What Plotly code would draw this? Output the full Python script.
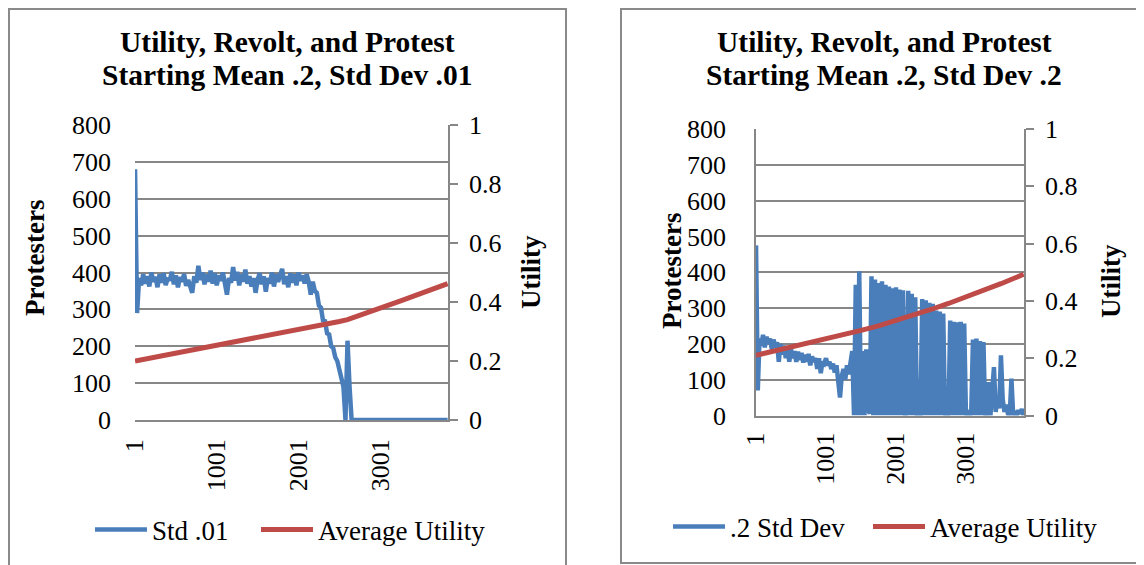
import plotly.graph_objects as go

# time steps are sampled every 25 runs (1, 26, 51, ...)
STEP = 25

# left chart: protesters, starting std dev .01
protest_std01 = [
    680, 290, 385, 365, 395, 370, 390, 362, 400, 375,
    388, 360, 395, 372, 398, 366, 385, 378, 402, 368,
    392, 360, 387, 375, 396, 364, 380, 358, 345, 390,
    372, 418, 380, 400, 368, 395, 375, 405, 370, 398,
    365, 392, 378, 400, 360, 340, 385, 372, 415, 378,
    402, 365, 395, 375, 408, 370, 390, 362, 385, 345,
    380, 398, 368, 390, 348, 385, 370, 400, 362, 395,
    375, 392, 410, 368, 390, 360, 398, 372, 395, 365,
    400, 378, 392, 370, 395, 375, 340, 375, 350, 345,
    310, 305, 270, 268, 235, 232, 200, 195, 170, 160,
    140, 120, 90, 0, 215, 90, 0, 0, 0, 0,
    0, 0, 0, 0, 0, 0, 0, 0, 0, 0,
    0, 0, 0, 0, 0, 0, 0, 0, 0, 0,
    0, 0, 0, 0, 0, 0, 0, 0, 0, 0,
    0, 0, 0, 0, 0, 0, 0, 0, 0, 0,
    0, 0, 0, 0,
]

# right chart: protesters, starting std dev .2
protest_std2 = [
    475, 70, 215, 195, 225, 190, 220, 200, 215, 185,
    212, 190, 205, 150, 200, 170, 195, 160, 190, 150,
    185, 160, 180, 150, 178, 155, 175, 148, 170, 150,
    172, 140, 165, 150, 160, 130, 160, 118, 150, 145,
    160, 140, 150, 130, 145, 120, 140, 95, 50, 110,
    130, 100, 140, 115, 160, 180, 0, 365, 0, 403,
    0, 180, 0, 185, 20, 5, 389, 0, 380, 0,
    370, 0, 375, 0, 365, 0, 360, 0, 355, 0,
    358, 0, 352, 0, 350, 0, 5, 348, 0, 340,
    0, 330, 0, 2, 0, 325, 0, 322, 0, 315,
    0, 312, 0, 293, 0, 290, 0, 285, 0, 5,
    0, 265, 0, 262, 0, 260, 0, 262, 0, 257,
    0, 8, 0, 5, 212, 0, 215, 0, 208, 0,
    205, 0, 3, 93, 0, 90, 135, 10, 50, 20,
    168, 45, 10, 30, 5, 0, 103, 0, 12, 0,
    15, 5, 18, 0,
]

# average utility, read at coarser steps
util_left_x = [1, 251, 501, 751, 1001, 1251, 1501, 1751, 2001, 2251,
               2501, 2601, 2751, 3001, 3251, 3501, 3751, 3826]
util_left = [0.200, 0.213, 0.226, 0.239, 0.252, 0.265, 0.278, 0.291, 0.305, 0.319,
             0.334, 0.340, 0.354, 0.379, 0.404, 0.429, 0.455, 0.462]

util_right_x = [1, 251, 501, 751, 1001, 1251, 1501, 1751, 2001, 2251,
                2501, 2751, 3001, 3251, 3501, 3826]
util_right = [0.210, 0.224, 0.238, 0.252, 0.266, 0.281, 0.297, 0.313, 0.331, 0.350,
              0.370, 0.391, 0.413, 0.436, 0.460, 0.493]

x_ticks = [1, 1001, 2001, 3001]
prot_ticks = [0, 100, 200, 300, 400, 500, 600, 700, 800]
util_ticks = [0, 0.2, 0.4, 0.6, 0.8, 1]
util_labels = ["0", "0.2", "0.4", "0.6", "0.8", "1"]

W, H = 1144, 565
OFF = 8  # page body margin, the figure sits 8px in from the window corner
BLUE = "#4a7ebb"
RED = "#be4b48"
GRID = "#878787"
FONT = "Liberation Serif"


# positions below are given in window pixels and mapped to paper coords
def px(x):
    return (x - OFF) / W


def py(y):
    return 1 - (y - OFF) / H


def steps(values):
    return list(range(1, 1 + STEP * len(values), STEP))


fig = go.Figure()

# left panel
fig.add_trace(go.Scatter(x=steps(protest_std01), y=protest_std01, name="Std .01",
                         mode="lines", line=dict(color=BLUE, width=4.5),
                         xaxis="x", yaxis="y", legend="legend"))
fig.add_trace(go.Scatter(x=util_left_x, y=util_left, name="Average Utility",
                         mode="lines", line=dict(color=RED, width=5),
                         xaxis="x", yaxis="y2", legend="legend2"))

# right panel
fig.add_trace(go.Scatter(x=steps(protest_std2), y=protest_std2, name=".2 Std Dev",
                         mode="lines", line=dict(color=BLUE, width=4.5),
                         xaxis="x2", yaxis="y3", legend="legend3"))
fig.add_trace(go.Scatter(x=util_right_x, y=util_right, name="Average Utility",
                         mode="lines", line=dict(color=RED, width=5),
                         xaxis="x2", yaxis="y4", legend="legend4"))

tick_font = dict(family=FONT, size=26, color="black")


def x_axis(domain, anchor, standoff):
    return dict(domain=domain, anchor=anchor, range=[0.5, 3830.5], automargin=False,
                tickvals=x_ticks, ticktext=[str(t) for t in x_ticks],
                tickangle=-90, showgrid=False, zeroline=False,
                showline=True, linecolor=GRID, linewidth=1.5,
                ticks="", ticklabelstandoff=standoff, tickfont=tick_font)


def prot_axis(domain, anchor, line):
    return dict(domain=domain, anchor=anchor, range=[0, 800], automargin=False,
                tickvals=prot_ticks, showgrid=True, gridcolor=GRID, gridwidth=1.5,
                zeroline=False, showline=line, linecolor=GRID, linewidth=1.5,
                ticks="", ticklabelstandoff=23, tickfont=tick_font)


def util_axis(over, anchor):
    return dict(overlaying=over, anchor=anchor, side="right", range=[0, 1],
                automargin=False,
                tickvals=util_ticks, ticktext=util_labels, showgrid=False,
                zeroline=False, showline=True, linecolor=GRID, linewidth=1.5,
                ticks="outside", ticklen=8, tickcolor=GRID, tickwidth=1.5,
                ticklabelstandoff=6, tickfont=tick_font)


def legend_at(x, y):
    # one entry per legend so each sits where Excel put it
    return dict(orientation="h", x=px(x), y=py(y), xanchor="left", yanchor="middle",
                font=dict(family=FONT, size=27, color="black"),
                bgcolor="rgba(0,0,0,0)", itemwidth=52)


left_x = [px(135), px(448)]
left_y = [py(420), py(125)]
right_x = [px(756), px(1024)]
right_y = [py(415.5), py(129)]

fig.update_layout(
    width=W, height=H,
    margin=dict(l=0, r=0, t=0, b=0, autoexpand=False),
    paper_bgcolor="white", plot_bgcolor="white",
    font=dict(family=FONT, color="black"),
    xaxis=x_axis(left_x, "y", 7),
    yaxis=prot_axis(left_y, "x", False),
    yaxis2=util_axis("y", "x"),
    xaxis2=x_axis(right_x, "y3", 5),
    yaxis3=prot_axis(right_y, "x2", True),
    yaxis4=util_axis("y3", "x2"),
    legend=legend_at(90, 530),
    legend2=legend_at(256, 530),
    legend3=legend_at(668, 527),
    legend4=legend_at(868, 527),
    showlegend=True,
)

# panel borders
fig.add_shape(type="rect", xref="paper", yref="paper",
              x0=px(9), x1=px(566), y0=-0.05, y1=py(9),
              line=dict(color="#8a8a8a", width=2), layer="below")
fig.add_shape(type="rect", xref="paper", yref="paper",
              x0=px(621), x1=1.05, y0=py(563), y1=py(9),
              line=dict(color="#8a8a8a", width=2), layer="below")

# chart titles, one annotation per line
titles = [
    (287, "Utility, Revolt, and Protest", "Starting Mean .2, Std Dev .01"),
    (884, "Utility, Revolt, and Protest", "Starting Mean .2, Std Dev .2"),
]
for cx, line1, line2 in titles:
    for cy, text in ((42, line1), (75, line2)):
        fig.add_annotation(x=px(cx), y=py(cy), xref="paper", yref="paper",
                           text=f"<b>{text}</b>", showarrow=False,
                           xanchor="center", yanchor="middle",
                           font=dict(family=FONT, size=29.5, color="black"))

# axis titles
axis_titles = [
    (35, 258, "Protesters"),
    (672, 271, "Protesters"),
    (531, 272, "Utility"),
    (1111, 281, "Utility"),
]
for ax, ay, text in axis_titles:
    fig.add_annotation(x=px(ax), y=py(ay), xref="paper", yref="paper",
                       text=f"<b>{text}</b>", showarrow=False, textangle=-90,
                       xanchor="center", yanchor="middle",
                       font=dict(family=FONT, size=27, color="black"))

fig.write_html("out.html")
